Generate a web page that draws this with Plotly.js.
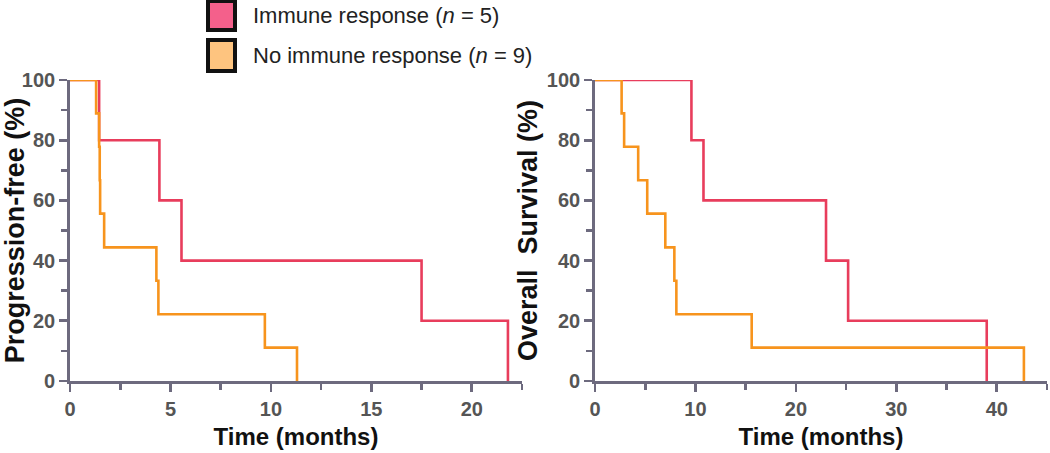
<!DOCTYPE html>
<html>
<head>
<meta charset="utf-8">
<script src="https://cdn.plot.ly/plotly-3.0.1.min.js"></script>
<style>
html,body{margin:0;padding:0;background:#fff;}
#chart{width:1050px;height:453px;}
</style>
</head>
<body>
<div id="chart"></div>
<script>
// Progression-free survival (months, %)
const pfsImmuneTime = [0, 1.45, 4.45, 5.55, 17.5, 21.8];
const pfsImmuneSurv = [100, 80, 60, 40, 20, 0];
const pfsNoTime = [0, 1.3, 1.45, 1.48, 1.5, 1.7, 4.3, 4.4, 9.7, 11.3];
const pfsNoSurv = [100, 88.9, 77.8, 66.7, 55.6, 44.4, 33.3, 22.2, 11.1, 0];

// Overall survival (months, %)
const osImmuneTime = [0, 9.6, 10.8, 23.0, 25.2, 39.0];
const osImmuneSurv = [100, 80, 60, 40, 20, 0];
const osNoTime = [0, 2.65, 2.9, 4.3, 5.2, 7.0, 7.9, 8.1, 15.6, 42.7];
const osNoSurv = [100, 88.9, 77.8, 66.7, 55.6, 44.4, 33.3, 22.2, 11.1, 0];

const groupLabels = ['Immune response (<i>n</i> = 5)', 'No immune response (<i>n</i> = 9)'];
const lineColors = ['#e83d5c', '#f7941d'];
const legendFills = ['#f4608b', '#fec47f'];

const axisColor = '#6d6a7e';
const tickFont = {family: 'Liberation Sans, Arial, sans-serif', size: 20, color: '#555555', weight: 'bold'};
const titleFont = {family: 'Liberation Sans, Arial, sans-serif', size: 24, color: '#111111', weight: 'bold'};

function stepTrace(x, y, color, xa, ya) {
  return {x: x, y: y, xaxis: xa, yaxis: ya, type: 'scatter', mode: 'lines',
    line: {shape: 'hv', color: color, width: 2.6}, showlegend: false, cliponaxis: false, hoverinfo: 'skip'};
}

const data = [
  stepTrace(pfsImmuneTime, pfsImmuneSurv, lineColors[0], 'x', 'y'),
  stepTrace(pfsNoTime, pfsNoSurv, lineColors[1], 'x', 'y'),
  stepTrace(osImmuneTime, osImmuneSurv, lineColors[0], 'x2', 'y2'),
  stepTrace(osNoTime, osNoSurv, lineColors[1], 'x2', 'y2')
];

function xAxis(domain, range, dtick, minor, anchor) {
  return {domain: domain, range: range, anchor: anchor, dtick: dtick, tick0: 0,
    showline: true, linecolor: axisColor, linewidth: 2.8, ticks: 'outside', ticklen: 8, tickwidth: 2.6, tickcolor: axisColor,
    minor: {dtick: minor, ticks: 'outside', ticklen: 6, tickwidth: 2.6, tickcolor: axisColor, showgrid: false},
    showgrid: false, zeroline: false, tickfont: tickFont, fixedrange: true,
    title: {text: 'Time (months)', font: titleFont, standoff: 10}};
}
function yAxis(title, anchor) {
  return {domain: [0, 1], range: [0, 100], anchor: anchor, dtick: 20, tick0: 0,
    showline: true, linecolor: axisColor, linewidth: 2.8, ticks: 'outside', ticklen: 8, tickwidth: 2.6, tickcolor: axisColor,
    minor: {dtick: 10, ticks: 'outside', ticklen: 6, tickwidth: 2.6, tickcolor: axisColor, showgrid: false},
    showgrid: false, zeroline: false, tickfont: tickFont, fixedrange: true,
    title: {text: title, font: Object.assign({}, titleFont, {size: 27}), standoff: 2}};
}

const W = 1050, H = 453, ML = 70, MR = 3, MT = 80, MB = 72;
const pw = W - ML - MR, ph = H - MT - MB;
const px = v => (v - ML) / pw;
const py = v => (H - MB - v) / ph;

const shapes = [], annotations = [];
const boxes = [[1, 30], [40, 71]];
boxes.forEach((b, i) => {
  shapes.push({type: 'rect', xref: 'paper', yref: 'paper', x0: px(208), x1: px(235), y0: py(b[1]), y1: py(b[0]),
    fillcolor: legendFills[i], line: {color: '#111111', width: 4}});
  annotations.push({xref: 'paper', yref: 'paper', x: px(251), y: py((b[0] + b[1]) / 2), xanchor: 'left', yanchor: 'middle',
    text: groupLabels[i], showarrow: false, font: {family: 'Liberation Sans, Arial, sans-serif', size: 22, color: '#222222'}});
});

const layout = {
  width: W, height: H,
  margin: {l: ML, r: MR, t: MT, b: MB},
  paper_bgcolor: '#ffffff', plot_bgcolor: '#ffffff',
  showlegend: false,
  xaxis: xAxis([0, px(522)], [0, 22.5], 5, 2.5, 'y'),
  yaxis: yAxis('Progression-free (%)', 'x'),
  xaxis2: xAxis([px(595), 1], [0, 45], 10, 5, 'y2'),
  yaxis2: yAxis('Overall\u00a0 Survival (%)', 'x2'),
  shapes: shapes,
  annotations: annotations
};

Plotly.newPlot('chart', data, layout, {displayModeBar: false, staticPlot: true});
</script>
</body>
</html>
